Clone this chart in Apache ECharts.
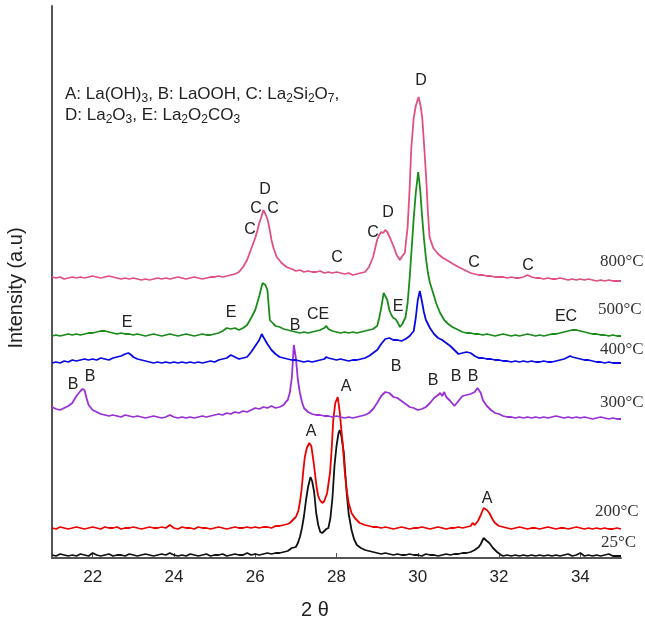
<!DOCTYPE html>
<html>
<head>
<meta charset="utf-8">
<script src="https://cdn.jsdelivr.net/npm/echarts@6.0.0/dist/echarts.min.js"></script>
<style>
    html, body { margin: 0; padding: 0; background: #fff; }
</style>
</head>
<body>
<div id="myChart" style="width: 645px;height:624px;"></div>

<script>
    // x = 2 theta (deg), y = intensity (a.u., curves already offset)
    var xTicks = [22, 24, 26, 28, 30, 32, 34];

    var d25 = [
        [21.0,3],[21.1,2],[21.2,4],[21.3,3],[21.4,2],[21.5,3],[21.6,2],[21.7,4],[21.8,3],[21.9,2],
        [22.0,5],[22.1,3],[22.2,2],[22.3,3],[22.4,4],[22.5,2],[22.6,3],[22.7,3],[22.8,2],[22.9,4],
        [23.0,3],[23.1,2],[23.2,3],[23.3,4],[23.4,3],[23.5,2],[23.6,3],[23.7,4],[23.8,3],[23.9,5],
        [24.0,3],[24.1,2],[24.2,3],[24.3,2],[24.4,4],[24.5,3],[24.6,2],[24.7,3],[24.8,4],[24.9,2],
        [25.0,3],[25.1,3],[25.2,4],[25.3,2],[25.4,3],[25.5,4],[25.6,3],[25.7,3],[25.8,5],[25.9,3],
        [26.0,4],[26.1,3],[26.2,4],[26.3,5],[26.4,4],[26.5,5],[26.6,5],[26.7,6],[26.8,7],[26.9,10],
        [27.0,11],[27.05,15],[27.1,21],[27.15,30],[27.2,42],[27.25,58],[27.3,71],[27.36,81],[27.4,77],
        [27.45,66],[27.5,45],[27.55,33],[27.6,26],[27.65,25],[27.7,27],[27.75,29],[27.8,30],[27.85,40],
        [27.9,60],[27.95,92],[28.0,112],[28.05,125],[28.08,128],[28.12,122],[28.18,105],[28.22,82],
        [28.26,61],[28.3,44],[28.37,28],[28.43,19],[28.5,13],[28.6,10],[28.7,8],[28.8,7],[28.9,6],
        [29.0,5],[29.1,4],[29.2,5],[29.3,4],[29.4,3],[29.5,4],[29.6,3],[29.7,3],[29.8,4],[29.9,3],
        [30.0,3],[30.1,2],[30.2,4],[30.3,3],[30.4,3],[30.5,2],[30.6,3],[30.7,4],[30.8,3],[30.9,4],
        [31.0,4],[31.1,5],[31.2,5],[31.3,6],[31.4,8],[31.5,11],[31.55,14],[31.62,20],[31.7,17],
        [31.76,15],[31.85,10],[31.95,6],[32.05,3],[32.1,2],[32.2,3],[32.3,2],[32.4,3],[32.5,2],
        [32.6,3],[32.7,2],[32.8,3],[32.9,2],[33.0,3],[33.1,2],[33.2,3],[33.3,2],[33.4,3],[33.5,2],
        [33.6,3],[33.7,4],[33.8,2],[33.9,3],[34.0,5],[34.1,2],[34.2,3],[34.3,2],[34.4,3],[34.5,2],
        [34.6,3],[34.7,4],[34.8,2],[34.9,2],[35.0,2]
    ];

    var d200 = [
        [21.0,30],[21.1,29],[21.2,31],[21.3,30],[21.4,29],[21.5,30],[21.6,31],[21.7,30],[21.8,29],[21.9,30],
        [22.0,31],[22.1,30],[22.2,29],[22.3,31],[22.4,30],[22.5,30],[22.6,31],[22.7,29],[22.8,30],[22.9,30],
        [23.0,31],[23.1,30],[23.2,29],[23.3,30],[23.4,31],[23.5,30],[23.6,30],[23.7,31],[23.8,30],[23.9,33],
        [24.0,30],[24.1,29],[24.2,31],[24.3,30],[24.4,30],[24.5,29],[24.6,31],[24.7,30],[24.8,30],[24.9,29],
        [25.0,30],[25.1,31],[25.2,30],[25.3,29],[25.4,30],[25.5,31],[25.6,30],[25.7,30],[25.8,31],[25.9,30],
        [26.0,31],[26.1,30],[26.2,31],[26.3,31],[26.4,30],[26.5,32],[26.6,32],[26.7,33],[26.8,34],[26.85,35],
        [26.9,37],[27.0,41],[27.06,47],[27.1,56],[27.14,68],[27.18,86],[27.22,101],[27.27,110],[27.33,115],
        [27.38,112],[27.44,95],[27.51,71],[27.55,62],[27.59,58],[27.65,55],[27.7,57],[27.77,65],[27.84,85],
        [27.88,108],[27.92,138],[27.97,155],[28.03,161],[28.08,146],[28.12,128],[28.16,111],[28.2,88],
        [28.25,68],[28.3,55],[28.37,45],[28.45,40],[28.57,35],[28.7,33],[28.8,32],[28.9,31],[29.0,31],
        [29.1,30],[29.2,31],[29.3,30],[29.4,29],[29.5,30],[29.6,31],[29.7,30],[29.8,29],[29.9,30],
        [30.0,30],[30.1,31],[30.2,30],[30.3,29],[30.4,30],[30.5,31],[30.6,30],[30.7,29],[30.8,30],[30.9,30],
        [31.0,31],[31.1,30],[31.2,31],[31.3,32],[31.35,35],[31.4,33],[31.48,37],[31.55,43],[31.62,50],
        [31.7,48],[31.76,45],[31.85,38],[31.9,35],[32.0,32],[32.1,31],[32.2,30],[32.3,29],[32.4,30],
        [32.5,31],[32.6,30],[32.7,29],[32.8,30],[32.9,30],[33.0,29],[33.1,30],[33.2,31],[33.3,30],[33.4,29],
        [33.5,30],[33.6,30],[33.7,29],[33.8,30],[33.9,31],[34.0,30],[34.1,29],[34.2,30],[34.3,29],[34.4,30],
        [34.5,29],[34.6,30],[34.7,29],[34.8,29],[34.9,30],[35.0,29]
    ];

    var d300 = [
        [21.0,151],[21.1,149],[21.2,148],[21.3,150],[21.4,152],[21.5,155],[21.6,162],[21.7,167],[21.75,169],
        [21.8,168],[21.85,160],[21.9,153],[22.0,148],[22.1,146],[22.2,144],[22.3,143],[22.4,142],[22.5,143],
        [22.6,142],[22.7,141],[22.8,143],[22.9,142],[23.0,141],[23.1,142],[23.2,141],[23.3,140],[23.4,141],
        [23.5,142],[23.6,141],[23.7,140],[23.8,141],[23.9,143],[24.0,141],[24.1,140],[24.2,141],[24.3,140],
        [24.4,141],[24.5,140],[24.6,141],[24.7,142],[24.8,141],[24.9,142],[25.0,143],[25.1,144],[25.2,143],
        [25.3,145],[25.4,144],[25.5,146],[25.6,145],[25.7,147],[25.8,146],[25.9,148],[26.0,150],[26.1,149],
        [26.2,151],[26.3,150],[26.4,152],[26.5,150],[26.6,151],[26.7,153],[26.75,156],[26.8,158],[26.85,165],
        [26.9,180],[26.95,213],[27.0,200],[27.05,178],[27.1,165],[27.15,156],[27.2,150],[27.3,146],[27.4,144],
        [27.5,143],[27.6,143],[27.7,142],[27.8,142],[27.9,141],[28.0,142],[28.1,141],[28.2,140],[28.3,141],
        [28.4,140],[28.5,141],[28.6,142],[28.7,143],[28.8,145],[28.9,149],[29.0,155],[29.1,162],[29.2,166],
        [29.3,165],[29.4,161],[29.5,160],[29.6,157],[29.7,154],[29.8,151],[29.9,150],[30.0,148],[30.1,149],
        [30.2,151],[30.3,155],[30.4,160],[30.5,163],[30.55,165],[30.6,162],[30.65,166],[30.7,161],[30.8,157],
        [30.9,152],[31.0,157],[31.1,162],[31.2,163],[31.3,164],[31.4,166],[31.47,170],[31.55,165],[31.6,158],
        [31.7,152],[31.8,148],[31.9,145],[32.0,144],[32.1,142],[32.2,141],[32.3,141],[32.4,140],[32.5,141],
        [32.6,140],[32.7,141],[32.8,140],[32.9,141],[33.0,140],[33.1,141],[33.2,140],[33.3,141],[33.4,142],
        [33.5,141],[33.6,140],[33.7,141],[33.8,140],[33.9,141],[34.0,140],[34.1,141],[34.2,140],[34.3,139],
        [34.4,140],[34.5,141],[34.6,140],[34.7,139],[34.8,140],[34.9,139],[35.0,139]
    ];

    var d400 = [
        [21.0,195],[21.1,196],[21.2,195],[21.3,197],[21.4,196],[21.5,198],[21.6,197],[21.7,198],[21.8,199],
        [21.9,198],[22.0,199],[22.1,198],[22.2,200],[22.3,199],[22.4,198],[22.5,200],[22.6,201],[22.7,202],
        [22.8,204],[22.88,205],[22.95,203],[23.0,201],[23.1,199],[23.2,198],[23.3,197],[23.4,196],[23.5,195],
        [23.6,196],[23.7,195],[23.8,196],[23.9,195],[24.0,196],[24.1,195],[24.2,196],[24.3,195],[24.4,196],
        [24.5,195],[24.6,196],[24.7,195],[24.8,196],[24.9,197],[25.0,196],[25.1,198],[25.2,199],[25.3,200],
        [25.4,203],[25.5,201],[25.6,199],[25.7,200],[25.8,201],[25.9,206],[26.0,212],[26.1,218],[26.16,224],
        [26.2,221],[26.3,214],[26.4,208],[26.5,204],[26.6,201],[26.7,200],[26.8,199],[26.9,198],[27.0,198],
        [27.1,197],[27.2,196],[27.3,197],[27.4,196],[27.5,197],[27.6,198],[27.7,199],[27.75,201],[27.8,200],
        [27.9,199],[28.0,198],[28.1,199],[28.2,198],[28.3,197],[28.4,198],[28.5,198],[28.6,199],[28.7,200],
        [28.8,202],[28.9,205],[29.0,208],[29.1,214],[29.2,219],[29.3,220],[29.4,218],[29.5,218],[29.6,217],
        [29.7,219],[29.8,222],[29.9,227],[29.95,240],[30.0,258],[30.05,267],[30.1,257],[30.15,246],[30.2,238],
        [30.3,230],[30.4,224],[30.5,220],[30.6,218],[30.7,215],[30.8,212],[30.9,208],[31.0,204],[31.1,205],
        [31.2,206],[31.3,205],[31.4,202],[31.5,200],[31.6,200],[31.7,199],[31.8,199],[31.9,198],[32.0,198],
        [32.1,197],[32.2,197],[32.3,196],[32.4,197],[32.5,196],[32.6,197],[32.7,196],[32.8,197],[32.9,196],
        [33.0,196],[33.1,197],[33.2,196],[33.3,196],[33.4,197],[33.5,198],[33.6,199],[33.7,201],[33.75,202],
        [33.8,201],[33.9,200],[34.0,199],[34.1,198],[34.2,198],[34.3,197],[34.4,196],[34.5,196],[34.6,195],
        [34.7,196],[34.8,195],[34.9,195],[35.0,195]
    ];

    var d500 = [
        [21.0,222],[21.1,223],[21.2,222],[21.3,223],[21.4,224],[21.5,223],[21.6,224],[21.7,223],[21.8,224],
        [21.9,225],[22.0,225],[22.1,226],[22.2,227],[22.3,227],[22.4,226],[22.5,225],[22.6,224],[22.7,225],
        [22.8,224],[22.9,224],[23.0,223],[23.1,224],[23.2,223],[23.3,222],[23.4,223],[23.5,224],[23.6,223],
        [23.7,222],[23.8,223],[23.9,224],[24.0,223],[24.1,222],[24.2,223],[24.3,224],[24.4,223],[24.5,222],
        [24.6,223],[24.7,224],[24.8,223],[24.9,223],[25.0,224],[25.1,225],[25.2,227],[25.3,230],[25.4,229],
        [25.5,230],[25.6,228],[25.7,230],[25.8,233],[25.9,240],[26.0,248],[26.1,262],[26.18,275],[26.25,273],
        [26.3,268],[26.36,238],[26.45,234],[26.5,232],[26.6,231],[26.7,229],[26.8,228],[26.9,227],[27.0,226],
        [27.1,225],[27.2,226],[27.3,225],[27.4,226],[27.5,227],[27.6,228],[27.7,230],[27.75,232],[27.8,229],
        [27.9,227],[28.0,226],[28.1,225],[28.2,226],[28.3,225],[28.4,226],[28.5,225],[28.6,226],[28.7,227],
        [28.8,228],[28.9,229],[29.0,232],[29.05,240],[29.1,250],[29.16,265],[29.25,258],[29.3,248],[29.35,243],
        [29.4,240],[29.45,239],[29.5,236],[29.56,231],[29.62,234],[29.7,241],[29.75,255],[29.8,280],[29.85,310],
        [29.9,340],[29.95,365],[30.01,386],[30.06,368],[30.1,345],[30.15,320],[30.2,300],[30.25,285],[30.3,275],
        [30.4,262],[30.45,255],[30.55,245],[30.65,238],[30.75,234],[30.85,231],[31.0,228],[31.1,226],[31.2,225],
        [31.3,225],[31.4,224],[31.5,224],[31.6,223],[31.7,224],[31.8,223],[31.9,222],[32.0,223],[32.1,224],
        [32.2,223],[32.3,222],[32.4,223],[32.5,222],[32.6,223],[32.7,224],[32.8,223],[32.9,222],[33.0,223],
        [33.1,222],[33.2,223],[33.3,224],[33.4,224],[33.5,225],[33.6,226],[33.7,227],[33.8,228],[33.84,230],
        [33.9,228],[34.0,227],[34.1,226],[34.2,225],[34.3,224],[34.4,224],[34.5,223],[34.6,223],[34.7,222],
        [34.8,223],[34.9,222],[35.0,222]
    ];

    var d800 = [
        [21.0,281],[21.1,280],[21.2,281],[21.3,279],[21.4,280],[21.5,281],[21.6,280],[21.7,281],[21.8,280],
        [21.9,281],[22.0,282],[22.1,281],[22.2,280],[22.3,281],[22.4,282],[22.5,281],[22.6,280],[22.7,279],
        [22.8,280],[22.9,279],[23.0,280],[23.1,279],[23.2,278],[23.3,279],[23.4,278],[23.5,279],[23.6,280],
        [23.7,279],[23.8,280],[23.9,279],[24.0,280],[24.1,281],[24.2,280],[24.3,279],[24.4,280],[24.5,281],
        [24.6,280],[24.7,279],[24.8,280],[24.9,281],[25.0,281],[25.1,282],[25.2,281],[25.3,282],[25.4,283],
        [25.5,284],[25.6,286],[25.7,291],[25.8,298],[25.9,309],[26.0,320],[26.05,327],[26.1,335],[26.15,341],
        [26.2,348],[26.25,344],[26.3,339],[26.35,330],[26.4,318],[26.45,310],[26.53,301],[26.65,295],[26.77,291],
        [26.9,289],[27.0,287],[27.1,288],[27.2,286],[27.3,287],[27.4,286],[27.5,286],[27.6,287],[27.7,285],
        [27.8,286],[27.9,285],[28.0,286],[28.1,285],[28.2,284],[28.3,285],[28.4,283],[28.5,284],[28.6,285],
        [28.7,286],[28.8,291],[28.9,301],[29.0,318],[29.05,323],[29.1,326],[29.15,325],[29.2,328],[29.25,326],
        [29.33,319],[29.4,312],[29.48,303],[29.56,298],[29.62,302],[29.68,305],[29.75,331],[29.8,370],[29.84,410],
        [29.9,440],[29.95,452],[30.02,461],[30.07,452],[30.11,440],[30.16,410],[30.21,378],[30.25,345],[30.29,321],
        [30.38,310],[30.5,304],[30.62,300],[30.75,297],[30.87,294],[31.0,291],[31.1,289],[31.2,287],[31.3,285],
        [31.4,284],[31.5,283],[31.6,283],[31.7,282],[31.8,282],[31.9,281],[32.0,281],[32.1,281],[32.2,280],
        [32.3,281],[32.4,280],[32.5,280],[32.6,281],[32.7,283],[32.8,281],[32.9,280],[33.0,280],[33.1,279],
        [33.2,280],[33.3,279],[33.4,279],[33.5,280],[33.6,279],[33.7,278],[33.8,279],[33.9,278],[34.0,279],
        [34.1,278],[34.2,279],[34.3,278],[34.4,277],[34.5,278],[34.6,277],[34.7,278],[34.8,277],[34.9,277],
        [35.0,277]
    ];

    var seriesNames = ['25°C', '200°C', '300°C', '400°C', '500°C', '800°C'];
    var seriesData = [d25, d200, d300, d400, d500, d800];
    var seriesColors = ['#111111', '#ee0000', '#9a2fd8', '#0a0ae6', '#1b8c1b', '#e2507f'];

    var series = [];
    for (var i = 0; i < seriesData.length; i++) {
        series.push({
            name: seriesNames[i],
            type: 'line',
            data: seriesData[i],
            showSymbol: false,
            silent: true,
            lineStyle: { width: 1.8, color: seriesColors[i] }
        });
    }

    // temperature tags at right end of each trace
    var tempTags = [
        ['800°C', 600, 262], ['500°C', 598, 310], ['400°C', 600, 350],
        ['300°C', 600, 403], ['200°C', 595, 512], ['25°C', 601, 543]
    ];
    // phase letters over the peaks
    var peakTags = [
        ['A', 311, 432], ['A', 346, 387], ['A', 487, 499],
        ['B', 73, 385], ['B', 90, 377], ['B', 295, 326], ['B', 396, 367],
        ['B', 433, 381], ['B', 456, 377], ['B', 473, 377],
        ['E', 127, 323], ['E', 231, 313], ['CE', 318, 315], ['E', 398, 307], ['EC', 566, 317],
        ['C', 250, 230], ['C', 256, 209], ['C', 273, 209], ['D', 265, 190],
        ['C', 337, 258], ['C', 373, 233], ['D', 388, 213], ['D', 421, 81],
        ['C', 474, 263], ['C', 528, 266]
    ];

    var graphics = [];
    tempTags.forEach(function (t) {
        graphics.push({
            type: 'text', x: t[1], y: t[2],
            style: { text: t[0], fontFamily: 'Liberation Serif', fontSize: 17, fill: '#333',
                     align: 'left', verticalAlign: 'middle' }
        });
    });
    peakTags.forEach(function (t) {
        graphics.push({
            type: 'text', x: t[1], y: t[2],
            style: { text: t[0], fontFamily: 'Liberation Sans', fontSize: 16, fill: '#222',
                     align: 'center', verticalAlign: 'middle' }
        });
    });
    graphics.push({
        type: 'text', x: 65, y: 84,
        style: {
            text: 'A: La(OH){s|3}, B: LaOOH, C: La{s|2}Si{s|2}O{s|7},\nD: La{s|2}O{s|3}, E: La{s|2}O{s|2}CO{s|3}',
            fontFamily: 'Liberation Sans', fontSize: 17, lineHeight: 21, fill: '#222',
            rich: { s: { fontFamily: 'Liberation Sans', fontSize: 12, lineHeight: 12, verticalAlign: 'bottom', fill: '#222' } }
        }
    });
    graphics.push({
        type: 'text', x: 16, y: 288, rotation: Math.PI / 2,
        style: { text: 'Intensity (a.u)', fontFamily: 'Liberation Sans', fontSize: 20, fill: '#222',
                 align: 'center', verticalAlign: 'middle' }
    });
    graphics.push({
        type: 'text', x: 315, y: 610,
        style: { text: '2 θ', fontFamily: 'Liberation Sans', fontSize: 20, fill: '#222',
                 align: 'center', verticalAlign: 'middle' }
    });

    var myChart = echarts.init(document.getElementById('myChart'));
    var option = {
        animation: false,
        grid: { left: 52, right: 24, top: 6, bottom: 66 },
        xAxis: {
            type: 'value',
            min: 21,
            max: 35,
            axisLine: { lineStyle: { color: '#555', width: 2 } },
            axisTick: { show: true, inside: true, length: 5, customValues: xTicks, lineStyle: { color: '#555' } },
            axisLabel: { customValues: xTicks, fontFamily: 'Liberation Sans', fontSize: 17, color: '#222', margin: 11 },
            splitLine: { show: false }
        },
        yAxis: {
            type: 'value',
            min: 0,
            max: 552,
            axisLine: { show: true, lineStyle: { color: '#555', width: 2 } },
            axisTick: { show: false },
            axisLabel: { show: false },
            splitLine: { show: false }
        },
        graphic: graphics,
        series: series
    };
    myChart.setOption(option);
</script>
</body>
</html>
